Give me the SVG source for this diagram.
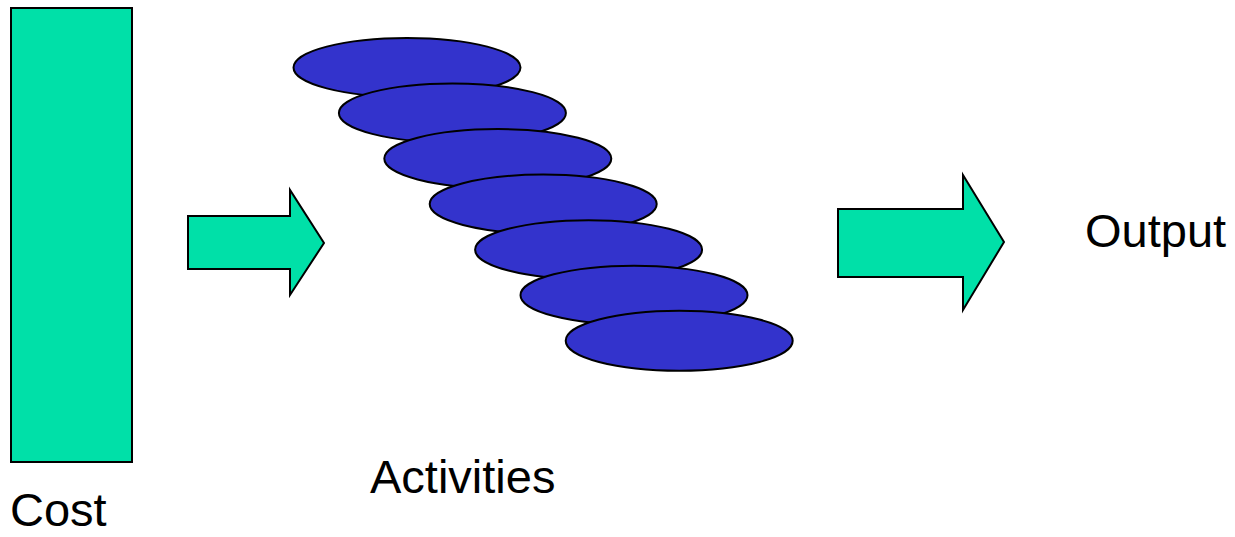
<svg xmlns="http://www.w3.org/2000/svg" width="1235" height="537" viewBox="0 0 1235 537">
<style>
.g{fill:#00e0a8;stroke:#000;stroke-width:2}
.e{fill:#3333cc;stroke:#000;stroke-width:2}
.t{font-family:"Liberation Sans",Arial,sans-serif;font-size:47px;fill:#000}
</style>
<rect width="1235" height="537" fill="#fff"/>
<g id="cost">
<rect class="g" x="11" y="8" width="121" height="454"/>
<text class="t" x="10" y="526">Cost</text>
</g>
<g id="connectors">
<polygon id="arrow1" class="g" points="188,216 290,216 290,190 324,243 290,295 290,269 188,269"/>
<polygon id="arrow2" class="g" points="838,209 963,209 963,175 1004,242 963,310 963,277 838,277"/>
</g>
<g id="activities">
<ellipse class="e" cx="407" cy="67.5" rx="113.5" ry="29.5"/>
<ellipse class="e" cx="452.4" cy="113" rx="113.5" ry="29.5"/>
<ellipse class="e" cx="497.8" cy="158.6" rx="113.5" ry="29.5"/>
<ellipse class="e" cx="543.2" cy="204.1" rx="113.5" ry="29.5"/>
<ellipse class="e" cx="588.6" cy="249.7" rx="113.5" ry="29.5"/>
<ellipse class="e" cx="634" cy="295.2" rx="113.5" ry="29.5"/>
<ellipse class="e" cx="679.2" cy="340.8" rx="113.5" ry="30"/>
<text class="t" x="370" y="493">Activities</text>
</g>
<g id="output">
<text class="t" x="1085" y="247">Output</text>
</g>
</svg>
